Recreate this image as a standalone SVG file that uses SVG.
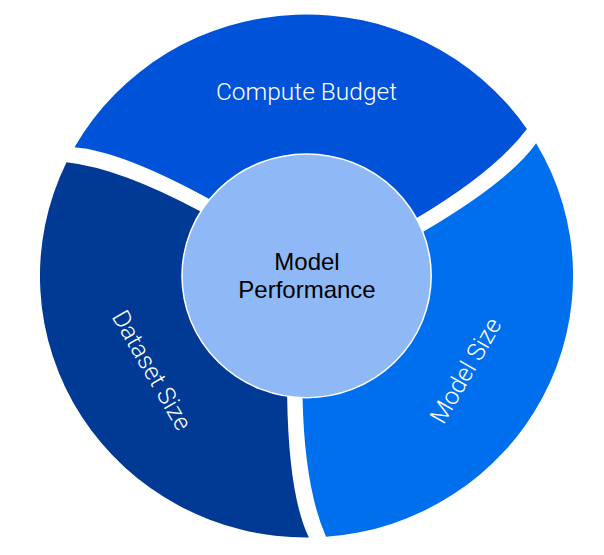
<svg xmlns="http://www.w3.org/2000/svg" width="604" height="555" viewBox="0 0 604 555">
  <defs>
    <path id="seg" d="M 266.4 8.8 A 266.5 266.5 0 0 1 -125.9 234.9 Q -117.6 181.8 -70.3 103.4 L -54.8 77.7 L 0 0 L 92.6 23.7 L 122.6 24.5 Q 223.1 27.15 266.4 8.8 Z"/>
  </defs>
  <style>
    .lbl { font-family: Roboto, "Liberation Sans", sans-serif; font-size: 24.5px; fill: #ffffff; text-anchor: middle; font-weight: 300; }
    .ctr { font-family: "Liberation Sans", Arial, sans-serif; font-size: 24px; fill: #000000; text-anchor: middle; }
  </style>
  <rect width="604" height="555" fill="#ffffff"/>
  <g id="dataset-size">
    <use href="#seg" fill="#003a94" transform="translate(306.5,276) scale(1,0.9812) rotate(87.6)"/>
    <text class="lbl" transform="translate(152,370) rotate(60)" x="0" y="8.5">Dataset Size</text>
  </g>
  <g id="compute-budget">
    <use href="#seg" fill="#0052d8" transform="translate(306.5,276) scale(1,0.9812) rotate(207.6)"/>
    <text class="lbl" x="306.5" y="100">Compute Budget</text>
  </g>
  <g id="model-size">
    <use href="#seg" fill="#006fee" transform="translate(306.5,276) scale(1,0.9812) rotate(327.6)"/>
    <text class="lbl" transform="translate(465.5,370.5) rotate(-60)" x="0" y="8.5">Model Size</text>
  </g>
  <g id="model-performance">
    <ellipse cx="306.6" cy="275.8" rx="124.6" ry="121.9" fill="#8fb8f6" stroke="#ffffff" stroke-width="1.5"/>
    <text class="ctr" x="307" y="270">Model</text>
    <text class="ctr" x="307" y="298.3">Performance</text>
  </g>
  <g id="connectors"></g>
</svg>
